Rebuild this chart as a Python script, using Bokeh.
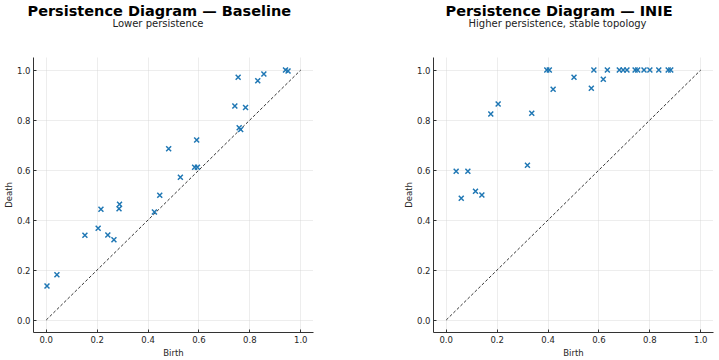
from bokeh.plotting import figure
from bokeh.layouts import row
from bokeh.models import (Range1d, FixedTicker, PrintfTickFormatter, Title,
                          ColumnDataSource, LinearAxis)
from bokeh.embed import file_html
from bokeh.resources import INLINE

# Baseline diagram
base_birth = [0.003, 0.042, 0.152, 0.204, 0.215, 0.242, 0.266, 0.288, 0.286, 0.425,
              0.446, 0.481, 0.527, 0.583, 0.594, 0.591, 0.741, 0.783, 0.758, 0.764,
              0.754, 0.831, 0.855, 0.940, 0.950]
base_death = [0.136, 0.181, 0.339, 0.367, 0.443, 0.340, 0.321, 0.463, 0.445, 0.432,
              0.499, 0.685, 0.571, 0.611, 0.611, 0.720, 0.856, 0.850, 0.769, 0.762,
              0.971, 0.957, 0.984, 1.000, 0.996]

# INIE diagram
inie_birth = [0.039, 0.059, 0.085, 0.115, 0.140, 0.175, 0.204, 0.319, 0.336, 0.395,
              0.405, 0.420, 0.502, 0.570, 0.580, 0.617, 0.633, 0.680, 0.695, 0.710,
              0.742, 0.752, 0.777, 0.800, 0.835, 0.872, 0.882]
inie_death = [0.595, 0.487, 0.595, 0.515, 0.500, 0.824, 0.864, 0.619, 0.827, 1.000,
              1.000, 0.923, 0.971, 0.927, 1.000, 0.963, 1.000, 1.000, 1.000, 1.000,
              1.000, 1.000, 1.000, 1.000, 1.000, 1.000, 1.000]

ticks = [0.0, 0.2, 0.4, 0.6, 0.8, 1.0]
diag = [0.0, 1.0]

titles = ["Persistence Diagram \u2014 Baseline", "Persistence Diagram \u2014 INIE"]
subtitles = ["Lower persistence", "Higher persistence, stable topology"]

FONT = "DejaVu Sans"
TXT = "#262626"


def make(births, deaths, title, subtitle, width, bl, br, t_off, s_off):
    p = figure(width=width, height=360, output_backend="svg", toolbar_location=None,
               x_range=Range1d(-0.05, 1.05), y_range=Range1d(-0.05, 1.05),
               min_border_left=bl, min_border_right=br, min_border_top=57,
               min_border_bottom=27, title=None)
    p.outline_line_color = None
    p.background_fill_color = "white"
    p.border_fill_color = "white"
    for ax in (p.xaxis[0], p.yaxis[0]):
        ax.ticker = FixedTicker(ticks=ticks)
        ax.formatter = PrintfTickFormatter(format="%.1f")
        ax.axis_line_color = "#333333"
        ax.axis_line_width = 1
        ax.major_tick_in = 3
        ax.major_tick_out = 0
        ax.major_tick_line_color = "#333333"
        ax.minor_tick_line_color = None
        ax.major_label_text_font = FONT
        ax.major_label_text_font_size = "8.5px"
        ax.major_label_text_color = TXT
        ax.axis_label_text_font = FONT
        ax.axis_label_text_font_size = "8.5px"
        ax.axis_label_text_font_style = "normal"
        ax.axis_label_text_color = TXT
    p.xaxis.axis_label = "Birth"
    p.yaxis.axis_label = "Death"
    p.xaxis.major_label_standoff = 3
    p.xaxis.axis_label_standoff = 2
    p.yaxis.major_label_standoff = 3
    p.yaxis.axis_label_standoff = 0
    p.grid.grid_line_color = "#d0d0d0"
    p.grid.grid_line_dash = "1 1"
    p.grid.grid_line_width = 0.8

    p.line(diag, diag, line_color="black", line_dash="3 2", line_width=0.8)
    src = ColumnDataSource(dict(b=births, d=deaths))
    p.scatter("b", "d", source=src, marker="x", size=7, line_width=1.5, color="#1f77b4")

    # invisible spacer between the frame and the subtitle: one white tick at the
    # frame's right edge, with an empty label
    spacer = LinearAxis(ticker=FixedTicker(ticks=[1.05]), axis_line_color=None,
                        major_tick_line_color="white", minor_tick_line_color=None,
                        major_tick_in=0, major_tick_out=29, minor_tick_in=0,
                        minor_tick_out=0, major_label_standoff=0,
                        major_label_overrides={1.05: ""},
                        major_label_text_font_size="0px")
    p.add_layout(spacer, "above")
    p.add_layout(Title(text=subtitle, align="left", offset=s_off, standoff=0,
                       text_font=FONT, text_font_size="10px", text_font_style="normal",
                       text_color="#222222"), "above")
    p.add_layout(Title(text=title, align="left", offset=t_off, standoff=-6,
                       text_font=FONT, text_font_size="14.5px", text_font_style="bold",
                       text_color="black"), "above")
    return p


p1 = make(base_birth, base_death, titles[0], subtitles[0], 360, 33, 47, -6, 79)
p2 = make(inie_birth, inie_death, titles[1], subtitles[1], 359, 73, 6, 12, 35)
layout = row(p1, p2)

open("out.html", "w").write(file_html(layout, INLINE))
